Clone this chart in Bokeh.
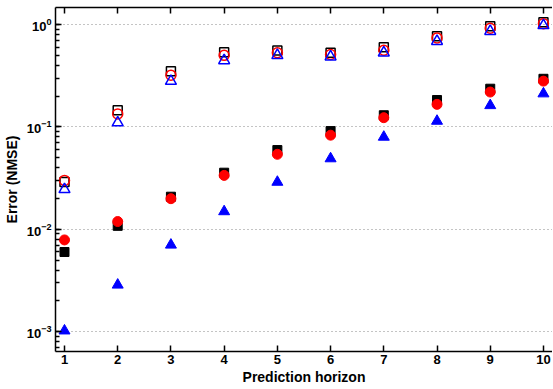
from bokeh.plotting import figure
from bokeh.models import LinearAxis, FixedTicker, Range1d
from bokeh.embed import file_html
from bokeh.resources import INLINE

horizon = [1, 2, 3, 4, 5, 6, 7, 8, 9, 10]

open_square = [0.029, 0.145, 0.35, 0.537, 0.557, 0.53, 0.60, 0.769, 0.96, 1.05]
open_circle = [0.030, 0.134, 0.32, 0.50, 0.53, 0.51, 0.56, 0.74, 0.92, 1.02]
open_triangle = [0.0245, 0.11, 0.28, 0.445, 0.50, 0.484, 0.53, 0.687, 0.86, 0.98]

filled_square = [0.0060, 0.0108, 0.0208, 0.0357, 0.0594, 0.091, 0.130, 0.183, 0.236, 0.295]
filled_circle = [0.00787, 0.0119, 0.0199, 0.0336, 0.054, 0.083, 0.123, 0.166, 0.219, 0.28]
filled_triangle = [0.00102, 0.00286, 0.00703, 0.0149, 0.0289, 0.049, 0.0796, 0.114, 0.162, 0.211]

x_ticks = [1, 2, 3, 4, 5, 6, 7, 8, 9, 10]

FONT = "Liberation Sans"

p = figure(width=552, height=387, y_axis_type="log",
           x_range=Range1d(0.831, 10.17), y_range=Range1d(6.4e-4, 1.466),
           output_backend="svg", toolbar_location=None,
           min_border_left=47, min_border_right=0, min_border_top=7, min_border_bottom=0)
p.outline_line_color = None
p.background_fill_color = "white"
p.border_fill_color = "white"
p.title.visible = False

p.xgrid.visible = False
p.ygrid.grid_line_color = "#888888"
p.ygrid.grid_line_dash = "1 3"
p.ygrid.grid_line_width = 1
p.ygrid.minor_grid_line_color = None

p.xaxis.ticker = FixedTicker(ticks=x_ticks)
p.xaxis.axis_label = "Prediction horizon"
p.yaxis.axis_label = "Error (NMSE)"
for ax in [p.xaxis[0], p.yaxis[0]]:
    ax.axis_line_color = "black"
    ax.axis_line_width = 1.5
    ax.major_tick_in = 6
    ax.major_tick_out = 0
    ax.major_tick_line_width = 1.5
    ax.minor_tick_in = 4
    ax.minor_tick_out = 0
    ax.minor_tick_line_width = 1.5
    ax.major_label_text_font = FONT
    ax.major_label_text_font_style = "bold"
    ax.major_label_text_font_size = "13px"
    ax.major_label_text_color = "black"
    ax.axis_label_text_font = FONT
    ax.axis_label_text_font_style = "bold"
    ax.axis_label_text_font_size = "14px"
    ax.axis_label_text_color = "black"
p.xaxis.minor_tick_line_color = None
p.xaxis.major_label_standoff = 3
p.xaxis.axis_label_standoff = 2
p.yaxis.major_label_standoff = 4
p.yaxis.axis_label_standoff = 4

top = LinearAxis(ticker=FixedTicker(ticks=x_ticks))
top.major_label_text_font_size = "0px"
top.major_label_text_color = None
top.axis_line_width = 1.5
top.major_tick_in = 6
top.major_tick_out = 0
top.major_tick_line_width = 1.5
top.minor_tick_line_color = None
top.major_label_standoff = 0
top.major_label_overrides = {t: "" for t in x_ticks}
p.add_layout(top, "above")

p.scatter(horizon, open_square, marker="square", size=9, fill_color=None,
          line_color="black", line_width=1.5)
p.scatter(horizon, open_circle, marker="circle", size=10, fill_color=None,
          line_color="red", line_width=1.5)
p.scatter(horizon, open_triangle, marker="triangle", size=11, fill_color=None,
          line_color="blue", line_width=1.5)

p.scatter(horizon, filled_square, marker="square", size=9, fill_color="black",
          line_color="black", line_width=1)
p.scatter(horizon, filled_circle, marker="circle", size=10, fill_color="red",
          line_color="red", line_width=1)
p.scatter(horizon, filled_triangle, marker="triangle", size=11, fill_color="blue",
          line_color="blue", line_width=1)

open("out.html", "w").write(file_html(p, INLINE))
